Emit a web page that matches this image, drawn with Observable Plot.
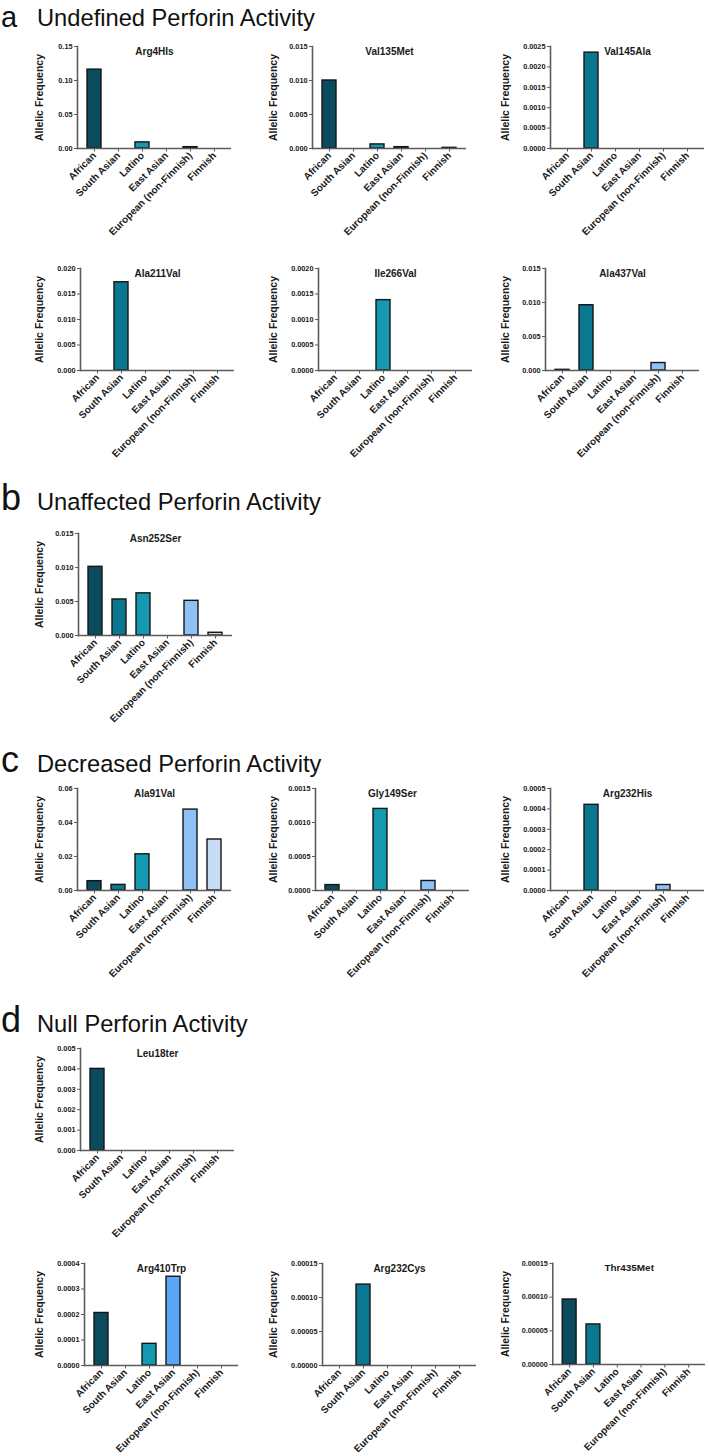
<!DOCTYPE html>
<html><head><meta charset="utf-8">
<script src="https://cdn.jsdelivr.net/npm/d3@7"></script>
<script src="https://cdn.jsdelivr.net/npm/@observablehq/plot@0.6"></script>
<style>
html,body{margin:0;padding:0;background:#fff;overflow:hidden}
#page{position:relative;width:709px;height:1456px;overflow:hidden;font-family:"Liberation Sans",Arial,sans-serif}
.panel{position:absolute}
.panel svg{overflow:visible}
#titles{position:absolute;left:0;top:0}
</style></head><body><div id="page"></div>
<script>
// ---------- data ----------
const populations = ["African", "South Asian", "Latino", "East Asian", "European (non-Finnish)", "Finnish"];
const populationColors = ["#0a4b5e", "#0a7890", "#1399b0", "#5aa7f7", "#8fc1f5", "#c8ddf5"];

const sectionLetters = ["a", "b", "c", "d"];
const sectionTitles = ["Undefined Perforin Activity", "Unaffected Perforin Activity", "Decreased Perforin Activity", "Null Perforin Activity"];

const yLabel = "Allelic Frequency";

// section a
const freqArg4HIs   = [0.116, 0, 0.009, 0, 0.002, 0];
const ticksArg4HIs  = ["0.00", "0.05", "0.10", "0.15"];
const freqVal135Met  = [0.0100, 0, 0.0006, 0.0002, 0, 0.0001];
const ticksVal135Met = ["0.000", "0.005", "0.010", "0.015"];
const freqVal145Ala  = [0, 0.00235, 0, 0, 0, 0];
const ticksVal145Ala = ["0.0000", "0.0005", "0.0010", "0.0015", "0.0020", "0.0025"];
const freqAla211Val  = [0, 0.0173, 0, 0, 0, 0];
const ticksAla211Val = ["0.000", "0.005", "0.010", "0.015", "0.020"];
const freqIle266Val  = [0, 0, 0.00138, 0, 0, 0];
const ticksIle266Val = ["0.0000", "0.0005", "0.0010", "0.0015", "0.0020"];
const freqAla437Val  = [0.0001, 0.0096, 0, 0, 0.0011, 0];
const ticksAla437Val = ["0.000", "0.005", "0.010", "0.015"];
// section b
const freqAsn252Ser  = [0.0101, 0.0053, 0.0062, 0, 0.0051, 0.0004];
const ticksAsn252Ser = ["0.000", "0.005", "0.010", "0.015"];
// section c
const freqAla91Val   = [0.0055, 0.0033, 0.0213, 0, 0.0476, 0.0300];
const ticksAla91Val  = ["0.00", "0.02", "0.04", "0.06"];
const freqGly149Ser  = [0.00008, 0, 0.0012, 0, 0.00014, 0];
const ticksGly149Ser = ["0.0000", "0.0005", "0.0010", "0.0015"];
const freqArg232His  = [0, 0.00042, 0, 0, 0.000027, 0];
const ticksArg232His = ["0.0000", "0.0001", "0.0002", "0.0003", "0.0004", "0.0005"];
// section d
const freqLeu18ter   = [0.0040, 0, 0, 0, 0, 0];
const ticksLeu18ter  = ["0.000", "0.001", "0.002", "0.003", "0.004", "0.005"];
const freqArg410Trp  = [0.000206, 0, 0.000085, 0.000348, 0, 0];
const ticksArg410Trp = ["0.0000", "0.0001", "0.0002", "0.0003", "0.0004"];
const freqArg232Cys  = [0, 0.000119, 0, 0, 0, 0];
const ticksArg232Cys = ["0.00000", "0.00005", "0.00010", "0.00015"];
const freqThr435Met  = [0.0000965, 0.0000595, 0, 0, 0, 0];
const ticksThr435Met = ["0.00000", "0.00005", "0.00010", "0.00015"];

const variantNames = ["Arg4HIs", "Val135Met", "Val145Ala", "Ala211Val", "Ile266Val", "Ala437Val",
  "Asn252Ser", "Ala91Val", "Gly149Ser", "Arg232His", "Leu18ter", "Arg410Trp", "Arg232Cys", "Thr435Met"];
const variantFreqs = [freqArg4HIs, freqVal135Met, freqVal145Ala, freqAla211Val, freqIle266Val, freqAla437Val,
  freqAsn252Ser, freqAla91Val, freqGly149Ser, freqArg232His, freqLeu18ter, freqArg410Trp, freqArg232Cys, freqThr435Met];
const variantTicks = [ticksArg4HIs, ticksVal135Met, ticksVal145Ala, ticksAla211Val, ticksIle266Val, ticksAla437Val,
  ticksAsn252Ser, ticksAla91Val, ticksGly149Ser, ticksArg232His, ticksLeu18ter, ticksArg410Trp, ticksArg232Cys, ticksThr435Met];

// ---------- layout ----------
const sectionBaselines = [26, 510, 772, 1032];
const letterBaselines = [27, 510, 772, 1032];
const letterSizes = [29, 36, 36, 36];
// per panel: [plot top, y-axis x, y-label column]
const layout = [
  [46, 77, 0], [46, 312, 1], [46, 550, 2],
  [268, 80, 0], [268, 318, 1], [268, 545, 2],
  [533, 78, 0],
  [788, 77, 0], [788, 315, 1], [788, 550, 2],
  [1048, 80, 0],
  [1263, 84, 0], [1263, 322, 1], [1263, 553, 2]
];
const labelColumnX = [39, 273, 505];
const ML = 90, MR = 4, MT = 12, MB = 90, PW = 154, PH = 102;
const FONT = "'Liberation Sans', Arial, sans-serif";
const AXIS = "#5c5c5c";
const INK = "#1a1a1a";

const page = document.getElementById("page");

// section headers
const svgT = d3.select(page).append("svg").attr("id", "titles").attr("width", 709).attr("height", 1456)
  .style("font-family", FONT);
sectionLetters.forEach((l, i) => {
  svgT.append("text").attr("x", 1).attr("y", letterBaselines[i]).attr("font-size", letterSizes[i]).attr("fill", "#111").text(l);
  svgT.append("text").attr("x", 37).attr("y", sectionBaselines[i]).attr("font-size", 23.7).attr("fill", "#111").text(sectionTitles[i]);
});

variantNames.forEach((name, k) => {
  const [top, axisX, col] = layout[k];
  const freqs = variantFreqs[k];
  const tickStr = variantTicks[k];
  const tickVals = tickStr.map(Number);
  const fmt = new Map(tickVals.map((v, i) => [v, tickStr[i]]));
  const data = populations.map((p, i) => ({pop: p, v: freqs[i], c: populationColors[i]})).filter(d => d.v > 0);
  const plot = Plot.plot({
    width: ML + PW + MR,
    height: MT + PH + MB,
    marginLeft: ML, marginRight: MR, marginTop: MT, marginBottom: MB,
    style: {fontFamily: FONT, background: "transparent", overflow: "visible", color: INK},
    x: {domain: populations, padding: 0.4, axis: null},
    y: {domain: [0, tickVals[tickVals.length - 1]], axis: null},
    color: {type: "identity"},
    marks: [
      Plot.barY(data, {x: "pop", y: "v", fill: "c", stroke: "#151515", strokeWidth: 1.4}),
      Plot.ruleY([0], {stroke: AXIS, strokeWidth: 1.6}),
      Plot.frame({anchor: "left", stroke: AXIS, strokeWidth: 1.6}),
      Plot.axisY({ticks: tickVals, tickFormat: v => fmt.get(v), tickSize: 3, tickPadding: 2,
        fontSize: 7.3, fontWeight: "bold", stroke: AXIS, fill: INK, label: null}),
      Plot.axisX({tickRotate: -45, tickSize: 3.5, tickPadding: 2, fontSize: 10, fontWeight: "bold",
        stroke: AXIS, fill: INK, label: null}),
      Plot.text([name], {frameAnchor: "top", dy: 1, fontSize: 10, fontWeight: "bold", fill: INK}),
      Plot.text([yLabel], {frameAnchor: "left", textAnchor: "middle", rotate: -90, dx: labelColumnX[col] - axisX,
        fontSize: 10.5, fontWeight: "bold", fill: INK})
    ]
  });
  const div = document.createElement("div");
  div.className = "panel";
  div.style.left = (axisX - ML) + "px";
  div.style.top = (top - MT) + "px";
  div.appendChild(plot);
  page.appendChild(div);
});
</script></body></html>
